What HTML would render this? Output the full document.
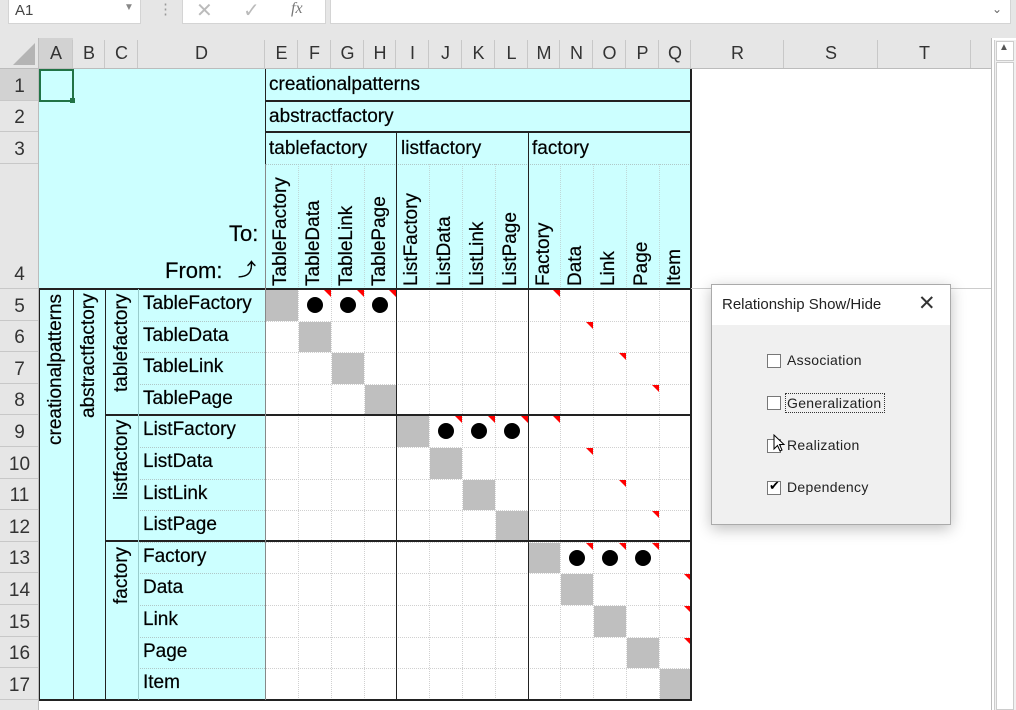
<!DOCTYPE html>
<html><head><meta charset="utf-8">
<style>
*{margin:0;padding:0;box-sizing:border-box}
body{width:1016px;height:710px;overflow:hidden;background:#fff;font-family:"Liberation Sans",Arial,sans-serif;position:relative}
.a{position:absolute}
.t{position:absolute;font-size:19px;color:#000;white-space:nowrap;-webkit-text-stroke:0.2px #000}
.v{position:absolute;font-size:19px;white-space:nowrap;transform-origin:0 0;transform:rotate(-90deg);-webkit-text-stroke:0.2px #000}
.hd{position:absolute;font-size:18px;color:#333;text-align:center}
</style></head><body>
<div class="a" style="left:0;top:0;width:1016px;height:38px;background:#e6e6e6"></div>
<div class="a" style="left:8px;top:0;width:133px;height:24px;background:#fff;border:1px solid #d4d4d4;border-top:none"></div>
<div class="t" style="left:15px;top:2px;font-size:15px;color:#444;-webkit-text-stroke:0">A1</div>
<div class="t" style="left:124px;top:2px;font-size:10px;color:#888;-webkit-text-stroke:0">▼</div>
<div class="t" style="left:158px;top:0px;font-size:15px;color:#999;-webkit-text-stroke:0">⋮</div>
<div class="a" style="left:182px;top:0;width:144px;height:24px;background:#fff;border:1px solid #d4d4d4;border-top:none"></div>
<div class="t" style="left:196px;top:-2px;font-size:20px;color:#bbb;-webkit-text-stroke:0">✕</div>
<div class="t" style="left:243px;top:-2px;font-size:20px;color:#bbb;-webkit-text-stroke:0">✓</div>
<div class="t" style="left:291px;top:0px;font-size:16px;color:#777;font-style:italic;font-family:'Liberation Serif',serif;-webkit-text-stroke:0">fx</div>
<div class="a" style="left:330px;top:0;width:681px;height:24px;background:#fff;border:1px solid #d4d4d4;border-top:none"></div>
<div class="t" style="left:992px;top:2px;font-size:12px;color:#666;-webkit-text-stroke:0">⌄</div>
<div id="g"></div>
<script>
const C=[39,73,105,138,265,298,331,364,396,429,462,495,528,560,593,626,659,691,784,878,971];
const L="ABCDEFGHIJKLMNOPQRST";
const R=[69,101,132,164,289];for(let i=1;i<=13;i++)R.push(Math.round(289+31.6*i));
let h='';
const box=(x,y,w,hh,s)=>h+=`<div class="a" style="left:${x}px;top:${y}px;width:${w}px;height:${hh}px;${s}"></div>`;
box(0,38,991,31,'background:#e6e6e6');
box(0,38,39,672,'background:#e6e6e6');
box(39,38,34,31,'background:#d2d2d2');box(0,69,39,32,'background:#d2d2d2');
for(let i=0;i<20;i++){box(C[i+1]-1,40,1,29,'background:#c8c8c8');h+=`<div class="hd" style="left:${C[i]}px;top:43px;width:${C[i+1]-C[i]}px">${L[i]}</div>`}
box(0,68,991,1,'background:#bcbcbc');
box(38,38,1,672,'background:#bcbcbc');
h+=`<div class="a" style="left:13px;top:43px;width:0;height:0;border-left:22px solid transparent;border-bottom:22px solid #b4b4b4"></div>`;
for(let r=0;r<17;r++){box(0,R[r+1]-1,38,1,'background:#c8c8c8');h+=`<div class="hd" style="left:0;top:${R[r+1]-25}px;width:39px;font-size:19px">${r+1}</div>`}
box(0,700,38,10,'background:#e6e6e6');
box(39,69,652,220,'background:#ccffff');box(39,289,226,411,'background:#ccffff');
for(let i=5;i<17;i++)box(C[i],289,1,411,'border-left:1px dotted #d0d0d0');
for(let r=5;r<18;r++)box(265,R[r],426,1,'border-top:1px dotted #d0d0d0');
for(let r=5;r<17;r++)box(138,R[r],127,1,'border-top:1px dotted #b0c8c8');
for(let i=5;i<17;i++)box(C[i],164,1,125,'border-left:1px dotted #c0d8d8');
box(265,164,426,1,'border-top:1px dotted #b0c8c8');
for(let i=0;i<13;i++){let r=i+4;box(C[i+4]+1,R[r]+1,C[i+5]-C[i+4]-1,R[r+1]-R[r]-1,'background:#bfbfbf')}
const dots=[[0,1],[0,2],[0,3],[4,5],[4,6],[4,7],[8,9],[8,10],[8,11]];
dots.forEach(([r,c])=>{let cx=(C[c+4]+C[c+5])/2,cy=(R[r+4]+R[r+5])/2;box(cx-8,cy-8,16,16,'background:#000;border-radius:50%')});
const tri=[[0,1],[0,2],[0,3],[0,8],[1,9],[2,10],[3,11],[4,5],[4,6],[4,7],[4,8],[5,9],[6,10],[7,11],[8,9],[8,10],[8,11],[9,12],[10,12],[11,12]];
tri.forEach(([r,c])=>{h+=`<div class="a" style="left:${C[c+5]-7}px;top:${R[r+4]+1}px;width:0;height:0;border-left:7px solid transparent;border-top:7px solid #f00"></div>`});
const blk='background:#222';
box(265,69,1,631,blk);box(396,132,1,568,blk);box(528,132,1,568,blk);box(690,69,2,632,blk);
box(265,100,426,2,blk);box(265,131,426,2,blk);box(39,288,652,2,blk);
box(105,414,586,2,blk);box(105,540,586,2,blk);box(39,699,652,2,blk);
box(39,289,1,411,blk);box(73,289,1,411,blk);box(105,289,1,411,blk);box(138,289,1,411,'background:#9cc');
box(265,164,1,536,'background:#888');
box(39,69,35,33,'border:2px solid #217346');box(70,98,5,5,'background:#217346');
const T=(x,y,s,st='')=>h+=`<div class="t" style="left:${x}px;top:${y}px;${st}">${s}</div>`;
T(269,74,'creationalpatterns');T(269,106,'abstractfactory');T(269,138,'tablefactory');T(401,138,'listfactory');T(532,138,'factory');
T(229,221,'To:','font-size:22px');T(165,258,'From:','font-size:22px');T(238,256,'⤴','font-size:18px');
const cn=['TableFactory','TableData','TableLink','TablePage','ListFactory','ListData','ListLink','ListPage','Factory','Data','Link','Page','Item'];
cn.forEach((s,i)=>h+=`<div class="v" style="left:${C[i+4]+5}px;top:286px">${s}</div>`);
cn.forEach((s,i)=>T(143,R[i+4]+4,s));
h+=`<div class="v" style="left:45px;top:445px">creationalpatterns</div>`;
h+=`<div class="v" style="left:78px;top:418px">abstractfactory</div>`;
h+=`<div class="v" style="left:111px;top:392px">tablefactory</div>`;
h+=`<div class="v" style="left:111px;top:500px">listfactory</div>`;
h+=`<div class="v" style="left:111px;top:604px">factory</div>`;
document.getElementById('g').innerHTML=h;
</script>
<div class="a" style="left:991px;top:38px;width:1px;height:672px;background:#bbb"></div>
<div class="a" style="left:994px;top:40px;width:22px;height:670px;background:#f0f0f0;border-left:1px solid #ccc"></div>
<div class="a" style="left:996px;top:41px;width:18px;height:20px;background:#fff;border:1px solid #ccc"></div>
<div class="t" style="left:999px;top:42px;font-size:10px;color:#555;-webkit-text-stroke:0">▲</div>
<div class="a" style="left:996px;top:62px;width:18px;height:648px;background:#fff;border:1px solid #ccc"></div>
<div class="a" style="left:691px;top:288px;width:300px;height:1px;background:#ccc"></div>
<div class="a" style="left:711px;top:284px;width:240px;height:241px;background:#f0f0f0;border:1px solid #aaa;box-shadow:0 4px 14px rgba(0,0,0,0.25)">
<div class="a" style="left:0;top:0;width:238px;height:40px;background:#fff"></div>
<div class="t" style="left:10px;top:11px;font-size:15px;color:#222;-webkit-text-stroke:0">Relationship Show/Hide</div>
<div class="t" style="left:206px;top:6px;font-size:21px;color:#333;-webkit-text-stroke:0">✕</div>
<div class="a" style="left:55px;top:69px;width:14px;height:14px;background:#fff;border:1px solid #777"></div>
<div class="t" style="left:75px;top:67px;font-size:14px;color:#222;letter-spacing:0.3px;-webkit-text-stroke:0">Association</div>
<div class="a" style="left:55px;top:111px;width:14px;height:14px;background:#fff;border:1px solid #777"></div>
<div class="a" style="left:73px;top:108px;width:100px;height:20px;border:1px dotted #333"></div>
<div class="t" style="left:75px;top:110px;font-size:14px;color:#222;letter-spacing:0.3px;-webkit-text-stroke:0">Generalization</div>
<div class="a" style="left:55px;top:154px;width:14px;height:14px;background:#fff;border:1px solid #777"></div>
<svg class="a" style="left:61px;top:149px" width="14" height="20" viewBox="0 0 14 20"><path d="M1 1 L1 15 L4.5 11.5 L7 17 L9 16 L6.5 10.5 L11 10.5 Z" fill="#fff" stroke="#000" stroke-width="1"/></svg>
<div class="t" style="left:75px;top:152px;font-size:14px;color:#222;letter-spacing:0.3px;-webkit-text-stroke:0">Realization</div>
<div class="a" style="left:55px;top:196px;width:14px;height:14px;background:#fff;border:1px solid #777"></div>
<div class="t" style="left:57px;top:193px;font-size:13px;color:#000;-webkit-text-stroke:0">✔</div>
<div class="t" style="left:75px;top:194px;font-size:14px;color:#222;letter-spacing:0.3px;-webkit-text-stroke:0">Dependency</div>
</div>
</body></html>
